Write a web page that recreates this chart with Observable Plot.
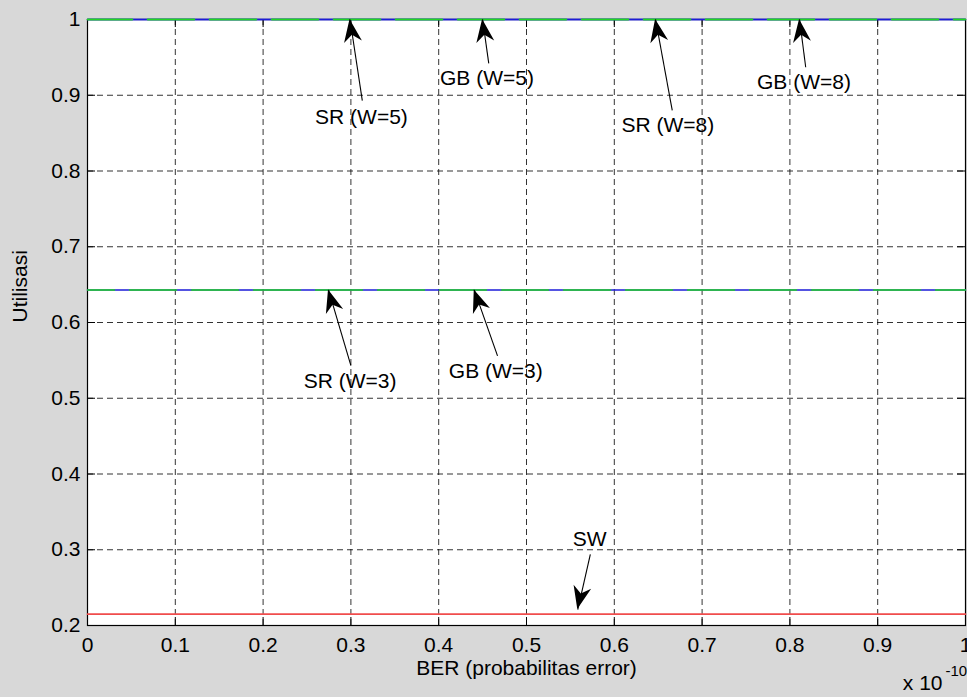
<!DOCTYPE html>
<html>
<head>
<meta charset="utf-8">
<script src="https://cdn.jsdelivr.net/npm/d3@7"></script>
<script src="https://cdn.jsdelivr.net/npm/@observablehq/plot@0.6"></script>
<style>
  html, body { margin: 0; padding: 0; background: #d8d8d8; }
</style>
</head>
<body>
<div id="chart"></div>
<script>
// BER axis, in units of 1e-10
const ber = [0, 0.1, 0.2, 0.3, 0.4, 0.5, 0.6, 0.7, 0.8, 0.9, 1];

// Utilisation per protocol / window size
const srW3 = [0.643, 0.643, 0.643, 0.643, 0.643, 0.643, 0.643, 0.643, 0.643, 0.643, 0.643];
const gbW3 = [0.643, 0.643, 0.643, 0.643, 0.643, 0.643, 0.643, 0.643, 0.643, 0.643, 0.643];
const srW5 = [1, 1, 1, 1, 1, 1, 1, 1, 1, 1, 1];
const gbW5 = [1, 1, 1, 1, 1, 1, 1, 1, 1, 1, 1];
const srW8 = [1, 1, 1, 1, 1, 1, 1, 1, 1, 1, 1];
const gbW8 = [1, 1, 1, 1, 1, 1, 1, 1, 1, 1, 1];
const sw   = [0.215, 0.215, 0.215, 0.215, 0.215, 0.215, 0.215, 0.215, 0.215, 0.215, 0.215];

// Tick positions
const xTicks = [0, 0.1, 0.2, 0.3, 0.4, 0.5, 0.6, 0.7, 0.8, 0.9, 1];
const yTicks = [0.2, 0.3, 0.4, 0.5, 0.6, 0.7, 0.8, 0.9, 1];
const xGrid = [0.1, 0.2, 0.3, 0.4, 0.5, 0.6, 0.7, 0.8, 0.9];
const yGrid = [0.3, 0.4, 0.5, 0.6, 0.7, 0.8, 0.9];

// Text arrows: label, arrow tip, arrow tail, label centre (data units)
const noteText   = ["SR (W=5)", "GB (W=5)", "SR (W=8)", "GB (W=8)", "SR (W=3)", "GB (W=3)", "SW"];
const noteTipX   = [0.299, 0.450, 0.647, 0.811, 0.2745, 0.4405, 0.5584];
const noteTipY   = [1, 1, 1, 1, 0.643, 0.643, 0.221];
const noteTailX  = [0.313, 0.457, 0.666, 0.818, 0.300, 0.467, 0.5727];
const noteTailY  = [0.893, 0.942, 0.880, 0.937, 0.543, 0.556, 0.294];
const noteLabelX = [0.312, 0.455, 0.661, 0.816, 0.299, 0.465, 0.572];
const noteLabelY = [0.871, 0.922, 0.861, 0.917, 0.523, 0.536, 0.314];

const xLabel = "BER (probabilitas error)";
const yLabel = "Utilisasi";

const blue = "#1c1cd8", green = "#22d422", red = "#f04c4c";
const fmt = d => String(d);

const chart = Plot.plot({
  width: 967,
  height: 697,
  marginLeft: 87,
  marginRight: 2,
  marginTop: 19,
  marginBottom: 72,
  style: {
    background: "#d8d8d8",
    fontFamily: "'Liberation Sans', Arial, Helvetica, sans-serif",
    fontSize: "21px",
    color: "black"
  },
  x: {domain: [0, 1], axis: null},
  y: {domain: [0.2, 1], axis: null},
  marks: [
    Plot.frame({fill: "white", stroke: null}),
    // dashed grid
    Plot.ruleX(xGrid, {x: d => d, stroke: "black", strokeOpacity: 0.8, strokeDasharray: "6,4"}),
    Plot.ruleY(yGrid, {y: d => d, stroke: "black", strokeOpacity: 0.8, strokeDasharray: "6,4"}),
    // inward ticks on all four sides
    Plot.tickX(xTicks, {x: d => d, insetTop: 598, stroke: "black"}),
    Plot.tickX(xTicks, {x: d => d, insetBottom: 598, stroke: "black"}),
    Plot.tickY(yTicks, {y: d => d, insetRight: 870, stroke: "black"}),
    Plot.tickY(yTicks, {y: d => d, insetLeft: 870, stroke: "black"}),
    Plot.frame({stroke: "black", strokeWidth: 1.2}),
    Plot.axisX({ticks: xTicks, tickSize: 0, tickPadding: 12, tickFormat: fmt, label: null}),
    Plot.axisY({ticks: yTicks, tickSize: 0, tickPadding: 7, tickFormat: fmt, label: null}),
    // series
    Plot.lineY(srW3, {x: ber, stroke: blue, strokeWidth: 1.4}),
    Plot.lineY(gbW3, {x: ber, stroke: green, strokeWidth: 1.4, strokeDasharray: "47,15", strokeDashoffset: 20}),
    Plot.lineY(srW5, {x: ber, stroke: blue, strokeWidth: 1.4}),
    Plot.lineY(srW8, {x: ber, stroke: blue, strokeWidth: 1.4}),
    Plot.lineY(gbW5, {x: ber, stroke: green, strokeWidth: 1.4, strokeDasharray: "47,15", strokeDashoffset: 2}),
    Plot.lineY(gbW8, {x: ber, stroke: green, strokeWidth: 1.4, strokeDasharray: "47,15", strokeDashoffset: 2}),
    Plot.lineY(sw, {x: ber, stroke: red, strokeWidth: 1.6}),
    // arrow shafts
    Plot.link(noteText, {x1: noteTailX, y1: noteTailY, x2: noteTipX, y2: noteTipY, stroke: "black", strokeWidth: 1.1}),
    Plot.text(noteText, {x: noteLabelX, y: noteLabelY, text: d => d, fill: "black"}),
    // axis titles
    Plot.text([xLabel], {frameAnchor: "bottom", dy: 49, text: d => d, fill: "black"}),
    Plot.text([yLabel], {frameAnchor: "left", dx: -67, rotate: -90, text: d => d, fill: "black"}),
    Plot.text(["x 10"], {frameAnchor: "bottom-right", textAnchor: "end", dx: -23, dy: 64, text: d => d, fill: "black"}),
    Plot.text(["-10"], {frameAnchor: "bottom-right", textAnchor: "start", dx: -20, dy: 50, fontSize: 15, text: d => d, fill: "black"})
  ]
});

// Filled, notched arrowheads placed through the chart's own scales
const sx = chart.scale("x"), sy = chart.scale("y");
const heads = d3.select(chart).append("g").attr("fill", "black");
noteText.forEach((_, i) => {
  const tx = sx.apply(noteTipX[i]), ty = sy.apply(noteTipY[i]);
  const vx = sx.apply(noteTailX[i]) - tx, vy = sy.apply(noteTailY[i]) - ty;
  const len = Math.hypot(vx, vy);
  const ax = vx / len, ay = vy / len;   // from tip toward tail
  const px = -ay, py = ax;              // perpendicular
  const L = 23, W = 9, N = 16;
  const p = [
    [tx, ty],
    [tx + ax * L + px * W, ty + ay * L + py * W],
    [tx + ax * N, ty + ay * N],
    [tx + ax * L - px * W, ty + ay * L - py * W]
  ];
  heads.append("path").attr("d", "M" + p.map(q => q.join(",")).join("L") + "Z");
});

document.getElementById("chart").append(chart);
</script>
</body>
</html>
